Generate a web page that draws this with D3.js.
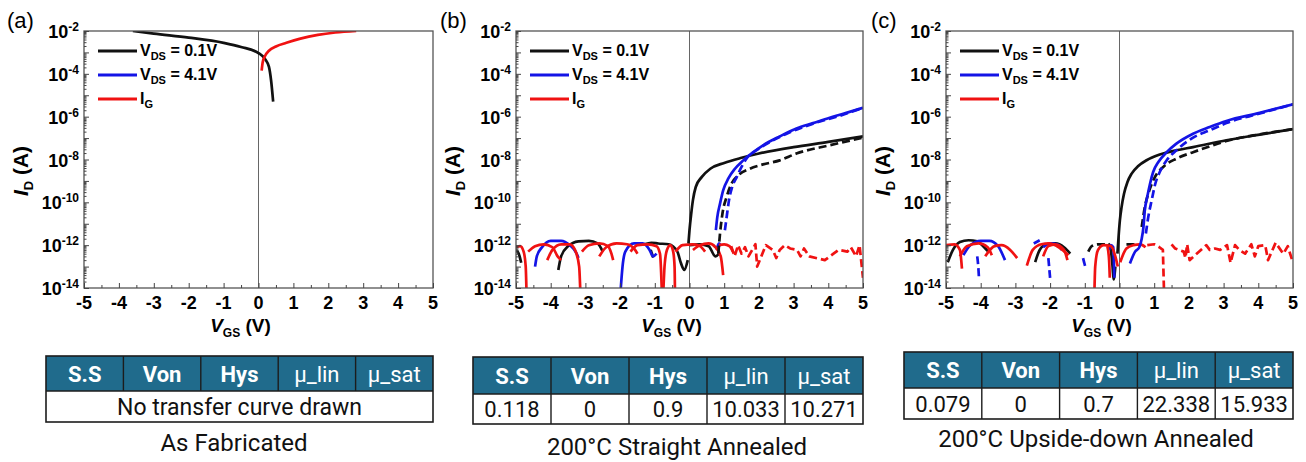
<!DOCTYPE html>
<html lang="en">
<head>
<meta charset="UTF-8">
<title>Transfer curves after annealing</title>
<style>
  body { margin: 0; background: #fff; }
  svg { display: block; font-family: "Liberation Sans", Arial, sans-serif; }
  .axis path, .axis line { stroke: #444; }
  .tbl text { font-family: Roboto, "Noto Sans", sans-serif; }
</style>
</head>
<body>
<svg id="chart" width="1306" height="462"></svg>
<script src="https://d3js.org/d3.v7.min.js"></script>
<script>
// ---- axis ticks ----
const xTicks = [-5, -4, -3, -2, -1, 0, 1, 2, 3, 4, 5];
const yTickExps = [-2, -4, -6, -8, -10, -12, -14];

// ---- panel (a): as fabricated, [VGS, I] ----
const aBlack = [[-3.6, 1e-2], [-3.0, 7.5e-3], [-2.0, 4.9e-3], [-1.0, 2.8e-3], [-0.5, 1.8e-3],
  [0.0, 9.3e-4], [0.2, 4.6e-4], [0.3, 2.1e-4], [0.36, 5e-5], [0.42, 5e-6]];
const aRed = [[0.09, 1.4e-4], [0.12, 3.5e-4], [0.18, 6.5e-4], [0.3, 1.2e-3], [0.5, 1.9e-3],
  [0.8, 2.8e-3], [1.2, 4.4e-3], [1.7, 6.6e-3], [2.2, 8.5e-3], [2.8, 1e-2]];

// ---- panel (b): straight annealed ----
const bBlackFwd = [[-0.03, 1.2e-12], [0.0, 5e-12], [0.05, 3e-11], [0.1, 1.3e-10], [0.18, 5.2e-10],
  [0.35, 1.5e-9], [0.6, 3.7e-9], [1.0, 6.9e-9], [1.5, 1.2e-8], [2.0, 1.9e-8], [3.0, 3.8e-8],
  [4.0, 6.6e-8], [5.0, 1.2e-7]];
const bBlackRev = [[0.83, 4e-13], [0.88, 3.5e-12], [0.95, 3e-11], [1.07, 1.8e-10], [1.21, 7.4e-10],
  [1.4, 1.8e-9], [1.74, 3.7e-9], [2.12, 5.9e-9], [2.6, 9.1e-9], [3.08, 1.9e-8], [4.04, 4.6e-8],
  [5.0, 1.05e-7]];
const bBlueFwd = [[0.76, 5e-12], [0.8, 2e-11], [0.88, 8.7e-11], [0.97, 3.6e-10], [1.12, 1.3e-9],
  [1.31, 3.7e-9], [1.55, 9.1e-9], [1.84, 2.2e-8], [2.12, 4.6e-8], [2.6, 1.2e-7], [3.08, 2.8e-7],
  [3.56, 5e-7], [4.04, 8.9e-7], [4.52, 1.5e-6], [5.0, 2.6e-6]];
const bBlueRev = [[1.02, 5e-12], [1.07, 2e-11], [1.14, 1.3e-10], [1.23, 5.2e-10], [1.36, 1.5e-9],
  [1.5, 4.5e-9], [1.64, 1.1e-8], [1.93, 2.7e-8], [2.32, 6.6e-8], [2.8, 1.6e-7], [3.56, 4.7e-7],
  [4.33, 1.1e-6], [5.0, 2.6e-6]];
const bBlackNoise = [
  [[-5.0, 6e-13], [-4.92, 4e-13], [-4.85, 1.5e-13]],
  [[-3.78, 7e-14], [-3.7, 3e-13], [-3.5, 9e-13], [-3.2, 1.5e-12], [-2.9, 1.6e-12], [-2.65, 1.2e-12], [-2.5, 5e-13]],
  [[-1.3, 1.1e-12], [-1.1, 1.3e-12], [-0.9, 1.2e-12], [-0.6, 1.1e-12], [-0.35, 5e-13], [-0.25, 1.5e-13], [-0.15, 7e-14], [-0.05, 2e-13]],
  [[0.0, 1e-12], [0.3, 1.1e-12], [0.55, 9e-13], [0.75, 3e-13], [0.85, 4e-13]]
];
const bBlackNoiseRev = [[[-1.12, 6e-13], [-1.02, 2e-13]]];
const bBlueNoise = [
  [[-4.45, 1e-13], [-4.4, 3e-13], [-4.25, 8e-13], [-4.0, 1.6e-12], [-3.7, 1.6e-12], [-3.45, 1e-12], [-3.25, 4e-13], [-3.2, 2.5e-13]],
  [[-1.98, 1e-14], [-1.93, 1e-13], [-1.85, 5e-13], [-1.6, 1.2e-12], [-1.35, 1.2e-12], [-1.15, 6e-13], [-1.05, 3e-13], [-0.95, 4e-13]],
  [[0.78, 6e-13], [0.85, 1.2e-12], [0.9, 9e-13]]
];
const bRedNoise = [
  [[-5.0, 8e-13], [-4.88, 9e-13], [-4.78, 5e-13], [-4.72, 1e-13], [-4.7, 1e-14]],
  [[-4.65, 5e-13], [-4.45, 9e-13], [-4.2, 1.1e-12], [-3.95, 8e-13], [-3.8, 3e-13], [-3.7, 2e-13]],
  [[-4.1, 2e-13], [-3.95, 6e-13], [-3.7, 1.1e-12], [-3.45, 1.1e-12], [-3.3, 6e-13], [-3.18, 1e-13], [-3.15, 1e-14]],
  [[-3.1, 5e-13], [-2.9, 1e-12], [-2.6, 1.2e-12], [-2.35, 9e-13], [-2.25, 4e-13], [-2.2, 2e-13]],
  [[-2.6, 3e-13], [-2.4, 8e-13], [-2.1, 1.2e-12], [-1.8, 1.1e-12], [-1.6, 7e-13], [-1.5, 4e-13]],
  [[-1.7, 5e-13], [-1.5, 1e-12], [-1.2, 1.1e-12], [-0.95, 9e-13], [-0.85, 4e-13], [-0.8, 1e-14]],
  [[-0.75, 1e-14], [-0.72, 1e-13], [-0.65, 6e-13], [-0.55, 1e-12], [-0.47, 5e-13], [-0.43, 1e-13], [-0.42, 1e-14]],
  [[-0.4, 5e-13], [-0.2, 1e-12], [0.1, 1.1e-12], [0.3, 9e-13], [0.45, 5e-13]],
  [[0.1, 6e-13], [0.3, 1e-12], [0.55, 1.2e-12], [0.75, 8e-13], [0.9, 3e-13], [0.97, 4e-14]],
  [[0.85, 1e-12], [1.0, 1.1e-12], [1.15, 9e-13], [1.25, 5e-13]]
];
const bRedDash = [[[1.2, 9e-13], [1.3, 3e-13], [1.4, 1e-12], [1.5, 4e-13], [1.6, 8e-13], [1.7, 3e-13],
  [1.9, 1.1e-12], [1.95, 1e-13], [2.2, 1e-12], [2.4, 6e-13], [2.5, 2.5e-13], [2.6, 6e-13],
  [2.75, 1e-12], [2.9, 7e-13], [3.1, 6e-13], [3.2, 3e-13], [3.3, 7e-13], [3.45, 3e-13],
  [3.9, 2e-13], [4.15, 4e-13], [4.3, 6e-13], [4.55, 5e-13], [4.65, 8e-13], [4.8, 3e-13],
  [4.9, 1e-12], [5.0, 3e-14]]];

// ---- panel (c): upside-down annealed ----
const cBlackFwd = [[-0.06, 4e-13], [-0.02, 3.5e-12], [0.01, 1.4e-11], [0.06, 6e-11], [0.13, 2.5e-10],
  [0.23, 8.9e-10], [0.35, 2.2e-9], [0.54, 5e-9], [0.78, 9.2e-9], [1.16, 1.7e-8], [1.64, 2.7e-8],
  [2.12, 3.8e-8], [3.08, 7.9e-8], [4.04, 1.45e-7], [5.0, 2.6e-7]];
const cBlackRev = [[0.64, 7e-12], [0.73, 6e-11], [0.86, 3.6e-10], [1.02, 1.5e-9], [1.26, 4.5e-9],
  [1.64, 1.1e-8], [2.12, 2.2e-8], [2.6, 4.1e-8], [3.08, 7.3e-8], [4.04, 1.5e-7], [5.0, 2.6e-7]];
const cBlueFwd = [[0.3, 1.4e-13], [0.45, 5e-13], [0.57, 8e-13], [0.64, 2e-12], [0.69, 7e-12],
  [0.73, 4.3e-11], [0.8, 1.8e-10], [0.88, 7.4e-10], [0.97, 2.6e-9], [1.12, 7.6e-9], [1.36, 2.2e-8],
  [1.64, 5.5e-8], [2.12, 1.6e-7], [2.6, 3.3e-7], [3.08, 6.3e-7], [4.04, 1.5e-6], [5.0, 3.8e-6]];
const cBlueRev = [[0.76, 3.5e-12], [0.83, 2.1e-11], [0.93, 1.3e-10], [1.02, 6.3e-10], [1.16, 2.6e-9],
  [1.36, 9.2e-9], [1.64, 2.7e-8], [2.12, 1.05e-7], [2.6, 2.3e-7], [3.08, 5e-7], [4.04, 1.4e-6],
  [5.0, 3.8e-6]];
const cBlackNoise = [
  [[-4.95, 1.6e-13], [-4.8, 6e-13], [-4.6, 1.4e-12], [-4.35, 1.7e-12], [-4.1, 1.5e-12], [-3.9, 8e-13], [-3.77, 4.8e-13]],
  [[-2.43, 1.6e-13], [-2.3, 6e-13], [-2.1, 1.1e-12], [-1.85, 1.2e-12], [-1.6, 8e-13], [-1.42, 4e-13]],
  [[-0.32, 1.2e-12], [-0.25, 6e-13], [-0.2, 1e-13], [-0.17, 2.5e-14], [-0.12, 1e-13]]
];
const cBlackNoiseRev = [
  [[-0.9, 5e-13], [-0.8, 9e-13], [-0.6, 1.1e-12], [-0.4, 1.1e-12]],
  [[0.2, 1.1e-12], [0.4, 1.1e-12], [0.62, 1e-12]]
];
const cBlueNoise = [
  [[-4.5, 3.4e-13], [-4.3, 1e-12], [-4.0, 1.6e-12], [-3.75, 1.6e-12], [-3.5, 9e-13], [-3.3, 2e-13]],
  [[-2.2, 8e-13], [-2.0, 1.2e-12], [-1.8, 1.1e-12], [-1.66, 6e-13]],
  [[-0.3, 6e-13], [-0.25, 1e-12], [-0.18, 8e-13], [-0.15, 3e-14]]
];
const cBlueNoiseRev = [
  [[-4.1, 3e-13], [-4.07, 1e-13], [-4.05, 3e-14]],
  [[-2.47, 1.2e-12], [-2.3, 1.7e-12]],
  [[-2.05, 2.5e-13], [-2.0, 3e-14]],
  [[-1.05, 2.5e-13], [-0.98, 9e-14]]
];
const cRedNoise = [
  [[-5.0, 1e-12], [-4.75, 1.1e-12], [-4.6, 6e-13], [-4.54, 8e-14]],
  [[-4.6, 3e-13], [-4.4, 9e-13], [-4.06, 1.2e-12], [-3.8, 8e-13], [-3.68, 3.4e-13]],
  [[-3.87, 3e-13], [-3.6, 9e-13], [-3.4, 1e-12], [-3.15, 6e-13], [-2.95, 2.5e-13]],
  [[-2.67, 1.1e-13], [-2.5, 6e-13], [-2.25, 1.1e-12], [-2.04, 1.2e-12], [-1.75, 8e-13], [-1.47, 3.4e-13]],
  [[-2.2, 3e-13], [-2.05, 9e-13], [-1.85, 1.1e-12], [-1.6, 6e-13], [-1.5, 2e-13]],
  [[-0.72, 1e-14], [-0.7, 1e-13], [-0.62, 6e-13], [-0.45, 1e-12], [-0.25, 9e-13], [-0.12, 3e-13], [-0.05, 1e-13]],
  [[-0.35, 9e-13], [-0.3, 2e-13], [-0.28, 3e-14]],
  [[0.02, 1.6e-13], [0.2, 7e-13], [0.4, 1e-12], [0.6, 1.1e-12], [0.75, 8e-13]]
];
const cRedDash = [
  [[0.8, 1e-12], [1.0, 1.1e-12], [1.15, 8e-13], [1.25, 6e-13], [1.28, 1e-14]],
  [[1.5, 1.1e-12], [1.6, 7e-13], [1.85, 5e-13], [1.9, 2.5e-13], [1.95, 1.1e-12], [2.02, 2e-13],
   [2.5, 1e-12], [2.6, 6e-13], [2.75, 7e-13], [2.9, 6e-13], [3.1, 1e-12], [3.2, 1.5e-13],
   [3.33, 1e-12], [3.45, 6e-13], [3.62, 4e-13], [3.8, 1.1e-12], [3.9, 3e-13], [4.0, 9e-13],
   [4.2, 1e-12], [4.28, 2e-13], [4.5, 1.3e-12], [4.72, 4e-13], [4.85, 9e-13], [5.0, 1.5e-13]]
];

// ---- tables ----
const tableHeaders = ["S.S", "Von", "Hys", "μ_lin", "μ_sat"];
const noteA = "No transfer curve drawn";
const rowB = ["0.118", "0", "0.9", "10.033", "10.271"];
const rowC = ["0.079", "0", "0.7", "22.338", "15.933"];
const captions = ["As Fabricated", "200°C Straight Annealed", "200°C Upside-down Annealed"];

const BLACK = "#111", BLUE = "#1414e6", RED = "#f01212";
const legendItems = [
  { main: "V", sub: "DS", tail: " = 0.1V", color: BLACK },
  { main: "V", sub: "DS", tail: " = 4.1V", color: BLUE },
  { main: "I", sub: "G", tail: "", color: RED }
];

const svg = d3.select("#chart");
const plotTop = 31, plotBottom = 288;

const panels = [
  { id: "a", left: 84, right: 433, label: "(a)", labelX: 7,
    table: { left: 46, right: 433, top: 356, mid: 391, bottom: 422 }, note: noteA,
    caption: captions[0], capX: 234, capY: 451,
    series: [
      { segs: [aBlack], color: BLACK },
      { segs: [aRed], color: RED }
    ] },
  { id: "b", left: 516, right: 863, label: "(b)", labelX: 440,
    table: { left: 473, right: 863, top: 357, mid: 394, bottom: 424 }, row: rowB,
    caption: captions[1], capX: 677, capY: 455,
    series: [
      { segs: bBlackNoise, color: BLACK },
      { segs: bBlackNoiseRev, color: BLACK, dash: true },
      { segs: bBlueNoise, color: BLUE },
      { segs: bRedNoise, color: RED },
      { segs: bRedDash, color: RED, dash: true, linear: true },
      { segs: [bBlackFwd], color: BLACK },
      { segs: [bBlackRev], color: BLACK, dash: true },
      { segs: [bBlueFwd], color: BLUE },
      { segs: [bBlueRev], color: BLUE, dash: true }
    ] },
  { id: "c", left: 946, right: 1293, label: "(c)", labelX: 871,
    table: { left: 904, right: 1293, top: 352, mid: 388, bottom: 419 }, row: rowC,
    caption: captions[2], capX: 1096, capY: 447,
    series: [
      { segs: cBlackNoise, color: BLACK },
      { segs: cBlackNoiseRev, color: BLACK, dash: true },
      { segs: cBlueNoise, color: BLUE },
      { segs: cBlueNoiseRev, color: BLUE, dash: true },
      { segs: cRedNoise, color: RED },
      { segs: cRedDash, color: RED, dash: true, linear: true },
      { segs: [cBlackFwd], color: BLACK },
      { segs: [cBlackRev], color: BLACK, dash: true },
      { segs: [cBlueFwd], color: BLUE },
      { segs: [cBlueRev], color: BLUE, dash: true }
    ] }
];

function drawPanel(p) {
  const x = d3.scaleLinear().domain([-5, 5]).range([p.left, p.right]);
  const y = d3.scaleLog().domain([1e-14, 1e-2]).range([plotBottom, plotTop]);
  const g = svg.append("g");

  svg.append("clipPath").attr("id", "clip-" + p.id)
    .append("rect").attr("x", p.left).attr("y", plotTop)
    .attr("width", p.right - p.left).attr("height", plotBottom - plotTop);

  // zero line
  g.append("line").attr("x1", x(0)).attr("x2", x(0)).attr("y1", plotTop).attr("y2", plotBottom)
    .attr("stroke", "#666").attr("stroke-width", 1);

  // curves
  const plot = g.append("g").attr("clip-path", `url(#clip-${p.id})`);
  p.series.forEach(s => {
    const line = d3.line().x(d => x(d[0])).y(d => y(d[1]))
      .curve(s.linear ? d3.curveLinear : d3.curveMonotoneX);
    plot.selectAll(null).data(s.segs).enter().append("path")
      .attr("d", line)
      .attr("fill", "none")
      .attr("stroke", s.color)
      .attr("stroke-width", 2.7)
      .attr("stroke-linejoin", "round")
      .attr("stroke-dasharray", s.dash ? "8,4" : null);
  });

  // frame
  g.append("rect").attr("x", p.left).attr("y", plotTop)
    .attr("width", p.right - p.left).attr("height", plotBottom - plotTop)
    .attr("fill", "none").attr("stroke", "#555").attr("stroke-width", 1.3);

  // y ticks (inward)
  const decades = d3.range(-14, -1).map(e => Math.pow(10, e));
  const minors = [];
  decades.slice(0, -1).forEach(d => { for (let k = 2; k <= 9; k++) minors.push(d * k); });
  g.append("g").attr("class", "axis").attr("transform", `translate(${p.left},0)`)
    .call(d3.axisLeft(y).tickValues(decades).tickSize(-5).tickFormat(""))
    .call(a => a.select(".domain").remove());
  g.append("g").attr("class", "axis").attr("transform", `translate(${p.left},0)`)
    .call(d3.axisLeft(y).tickValues(minors).tickSize(-2.5).tickFormat(""))
    .call(a => a.select(".domain").remove());

  // x ticks (inward)
  const xMinor = xTicks.slice(0, -1).map(v => v + 0.5);
  g.append("g").attr("class", "axis").attr("transform", `translate(0,${plotBottom})`)
    .call(d3.axisBottom(x).tickValues(xTicks).tickSize(-5).tickFormat(""))
    .call(a => a.select(".domain").remove());
  g.append("g").attr("class", "axis").attr("transform", `translate(0,${plotBottom})`)
    .call(d3.axisBottom(x).tickValues(xMinor).tickSize(-3).tickFormat(""))
    .call(a => a.select(".domain").remove());

  // y tick labels 10^n
  yTickExps.forEach(e => {
    const t = g.append("text").attr("x", p.left - 5).attr("y", y(Math.pow(10, e)) + 7)
      .attr("text-anchor", "end").attr("font-weight", "bold").attr("font-size", 18);
    t.append("tspan").text("10");
    t.append("tspan").attr("dy", -7).attr("font-size", 12).text(String(e));
  });

  // x tick labels
  g.selectAll(null).data(xTicks).enter().append("text")
    .attr("x", d => x(d)).attr("y", 309)
    .attr("text-anchor", "middle").attr("font-weight", "bold").attr("font-size", 18)
    .text(d => String(d));

  // x label
  const xl = g.append("text").attr("x", (p.left + p.right) / 2 - 18).attr("y", 332)
    .attr("text-anchor", "middle").attr("font-weight", "bold").attr("font-size", 19);
  xl.append("tspan").attr("font-style", "italic").text("V");
  xl.append("tspan").attr("font-size", 12).attr("dy", 5).text("GS");
  xl.append("tspan").attr("dy", -5).text(" (V)");

  // y label
  const yl = g.append("text").attr("transform", `translate(${p.left - 56},171) rotate(-90)`)
    .attr("text-anchor", "middle").attr("font-weight", "bold").attr("font-size", 21);
  yl.append("tspan").attr("font-style", "italic").text("I");
  yl.append("tspan").attr("font-size", 13).attr("dy", 5).text("D");
  yl.append("tspan").attr("dy", -5).text(" (A)");

  // panel label
  g.append("text").attr("x", p.labelX).attr("y", 28).attr("font-size", 22).text(p.label);

  // legend
  legendItems.forEach((it, i) => {
    const ly = 51 + i * 24;
    g.append("line").attr("x1", p.left + 14).attr("x2", p.left + 53).attr("y1", ly).attr("y2", ly)
      .attr("stroke", it.color).attr("stroke-width", 3);
    const t = g.append("text").attr("x", p.left + 56).attr("y", ly + 5)
      .attr("font-weight", "bold").attr("font-size", 16);
    t.append("tspan").text(it.main);
    t.append("tspan").attr("font-size", 11).attr("dy", 4).text(it.sub);
    if (it.tail) t.append("tspan").attr("dy", -4).text(it.tail);
  });

  drawTable(p);
}

function drawTable(p) {
  const t = p.table;
  const tg = svg.append("g").attr("class", "tbl");
  const cw = (t.right - t.left) / tableHeaders.length;
  tg.append("rect").attr("x", t.left).attr("y", t.top).attr("width", t.right - t.left)
    .attr("height", t.mid - t.top).attr("fill", "#206b8c");
  tg.append("rect").attr("x", t.left).attr("y", t.mid).attr("width", t.right - t.left)
    .attr("height", t.bottom - t.mid).attr("fill", "#fff");
  // column separators
  for (let i = 1; i < tableHeaders.length; i++) {
    tg.append("line").attr("x1", t.left + i * cw).attr("x2", t.left + i * cw)
      .attr("y1", t.top).attr("y2", p.row ? t.bottom : t.mid)
      .attr("stroke", "#1c1c1c").attr("stroke-width", 1.4);
  }
  tg.append("line").attr("x1", t.left).attr("x2", t.right).attr("y1", t.mid).attr("y2", t.mid)
    .attr("stroke", "#1c1c1c").attr("stroke-width", 1.4);
  tg.append("rect").attr("x", t.left).attr("y", t.top).attr("width", t.right - t.left)
    .attr("height", t.bottom - t.top).attr("fill", "none").attr("stroke", "#1c1c1c").attr("stroke-width", 1.6);

  const hy = (t.top + t.mid) / 2 + 8;
  tg.selectAll(null).data(tableHeaders).enter().append("text")
    .attr("x", (d, i) => t.left + (i + 0.5) * cw).attr("y", hy)
    .attr("text-anchor", "middle").attr("fill", "#fff").attr("font-size", 22)
    .attr("font-weight", d => d.startsWith("μ") ? 400 : 700)
    .text(d => d);

  const by = (t.mid + t.bottom) / 2 + 8;
  if (p.row) {
    tg.selectAll(null).data(p.row).enter().append("text")
      .attr("x", (d, i) => t.left + (i + 0.5) * cw).attr("y", by)
      .attr("text-anchor", "middle").attr("fill", "#111").attr("font-size", 22)
      .text(d => d);
  } else {
    tg.append("text").attr("x", (t.left + t.right) / 2).attr("y", by)
      .attr("text-anchor", "middle").attr("fill", "#111").attr("font-size", 23)
      .text(p.note);
  }

  tg.append("text").attr("x", p.capX).attr("y", p.capY)
    .attr("text-anchor", "middle").attr("fill", "#111").attr("font-size", 24)
    .text(p.caption);
}

panels.forEach(drawPanel);
</script>
</body>
</html>
